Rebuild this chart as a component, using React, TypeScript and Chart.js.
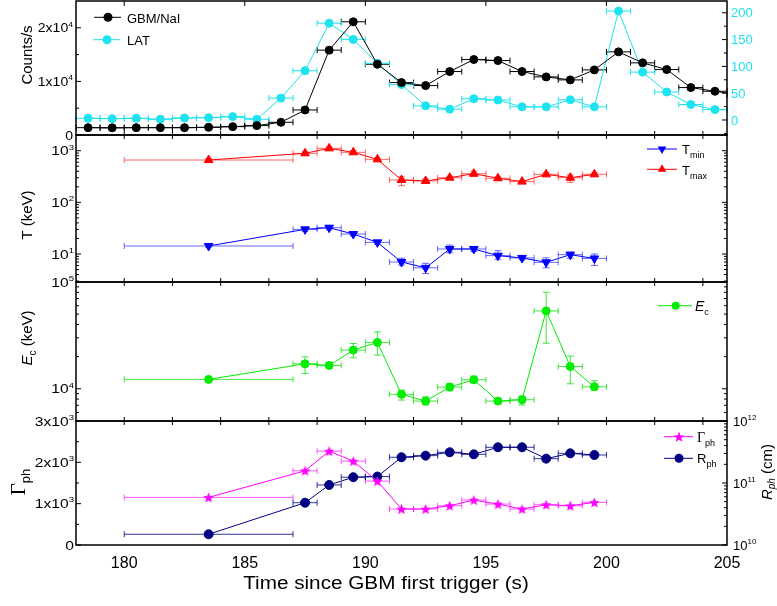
import React, { useEffect, useRef } from 'react';
import { Chart, registerables } from 'chart.js';

Chart.register(...registerables);

// ---------------- data ----------------
const gbmTime = [178.5, 179.5, 180.5, 181.5, 182.5, 183.5, 184.5, 185.5, 186.5, 187.5, 188.5, 189.5, 190.5, 191.5, 192.5, 193.5, 194.5, 195.5, 196.5, 197.5, 198.5, 199.5, 200.5, 201.5, 202.5, 203.5, 204.5, 205.5];
const gbmCounts = [1370, 1340, 1370, 1370, 1370, 1430, 1560, 1750, 2370, 4670, 15830, 21120, 13200, 9780, 9220, 11840, 14080, 13890, 11840, 10840, 10280, 12150, 15510, 13460, 12210, 8850, 8160, 7500];
const latTime = [178.5, 179.5, 180.5, 181.5, 182.5, 183.5, 184.5, 185.5, 186.5, 187.5, 188.5, 189.5, 190.5, 191.5, 192.5, 193.5, 194.5, 195.5, 196.5, 197.5, 198.5, 199.5, 200.5, 201.5, 202.5, 203.5, 204.5, 205.5];
const latCounts = [3.2, 2.5, 3.2, 1.3, 3.8, 4.4, 6.3, 1.3, 40.9, 91.9, 180.6, 150.4, 105.7, 66, 26.4, 20.1, 39.6, 37.2, 24.5, 24.5, 37.7, 24.5, 203.2, 89.3, 52.2, 28.9, 19.4, 19];
const lcHalfWidth = 0.5;

const specTime = [183.5, 187.5, 188.5, 189.5, 190.5, 191.5, 192.5, 193.5, 194.5, 195.5, 196.5, 197.5, 198.5, 199.5];
const specHalfWidth = [3.5, 0.5, 0.5, 0.5, 0.5, 0.5, 0.5, 0.5, 0.5, 0.5, 0.5, 0.5, 0.5, 0.5];

const tMin = [14.3, 30, 32.3, 24.4, 16.8, 7.0, 5.4, 12.5, 12.5, 9.3, 8.4, 6.9, 9.7, 8.2];
const tMinLo = [13.6, 27.5, 29.5, 22.5, 15.5, 6.1, 4.2, 10.6, 11.2, 7.9, 7.7, 5.4, 8.3, 6.0];
const tMinHi = [15.0, 32.5, 35, 26.5, 18.2, 8.3, 6.6, 14.9, 14.0, 11.6, 9.1, 8.4, 10.9, 10.0];
const tMax = [660, 890, 1110, 930, 680, 271, 260, 300, 359, 292, 252, 349, 300, 349];
const tMaxLo = [615, 830, 1030, 870, 640, 210, 245, 282, 318, 275, 238, 326, 245, 326];
const tMaxHi = [705, 950, 1190, 1000, 725, 312, 280, 320, 400, 312, 268, 374, 338, 374];

const ecVal = [12240, 17130, 16550, 23020, 27160, 8870, 7670, 10370, 12140, 7670, 7890, 53560, 16180, 10440];
const ecLo = [11550, 13930, 15600, 19480, 20650, 7840, 7050, 9580, 11380, 7300, 7050, 26720, 11130, 9720];
const ecHi = [12780, 19900, 17500, 26550, 34120, 9720, 8410, 11230, 13150, 8130, 8550, 80200, 20230, 11880];

const gammaPh = [1152, 1795, 2270, 2029, 1546, 870, 870, 950, 1087, 990, 870, 974, 950, 1031];
const rPh = [1.49e10, 4.81e10, 9.3e10, 1.24e11, 1.27e11, 2.6e11, 2.76e11, 3.13e11, 2.9e11, 3.77e11, 3.77e11, 2.47e11, 3.01e11, 2.83e11];

// ---------------- ticks ----------------
const X_MIN = 178;
const X_MAX = 205;
const xTickValues = [180, 185, 190, 195, 200, 205];
const xTickLabels = ['180', '185', '190', '195', '200', '205'];
const xTopTicks = [180, 185, 190, 195, 200];
const xInnerTicks = [180, 182, 184, 186, 188, 190, 192, 194, 196, 198, 200, 202, 204];

const countsTicks = [0, 10000, 20000];
const countsTickLabels = ['0', '1x10^4', '2x10^4'];
const countsMinor = [5000, 15000];
const latTicks = [0, 50, 100, 150, 200];
const latTickLabels = ['0', '50', '100', '150', '200'];
const latMinor = [-25, 25, 75, 125, 175];
const tTicks = [10, 100, 1000];
const tTickLabels = ['10^1', '10^2', '10^3'];
const ecTicks = [1e4, 1e5];
const ecTickLabels = ['10^4', '10^5'];
const gammaTicks = [0, 1000, 2000, 3000];
const gammaTickLabels = ['0', '1x10^3', '2x10^3', '3x10^3'];
const gammaMinor = [500, 1500, 2500];
const rTicks = [1e10, 1e11, 1e12];
const rTickLabels = ['10^10', '10^11', '10^12'];

// ---------------- styles ----------------
const BLACK = '#000000';
const CYAN = '#1EE3EF';
const RED = '#FF0000';
const BLUE = '#0000FF';
const GREEN = '#00EE00';
const MAGENTA = '#FF00FF';
const NAVY = '#000080';
const SANS = '"Liberation Sans", Arial, Helvetica, sans-serif';
const SERIF = '"Liberation Serif", "Times New Roman", serif';

type Seg = { t: string; size: number; dy?: number; italic?: boolean; serif?: boolean };

function fontOf(s: Seg) {
  return `${s.italic ? 'italic ' : ''}${s.size}px ${s.serif ? SERIF : SANS}`;
}
function measure(ctx: CanvasRenderingContext2D, segs: Seg[]) {
  let w = 0;
  for (const s of segs) {
    ctx.font = fontOf(s);
    w += ctx.measureText(s.t).width;
  }
  return w;
}
function drawRich(ctx: CanvasRenderingContext2D, segs: Seg[], x: number, y: number, align: string, color: string, sx = 1, rotate = false) {
  ctx.save();
  ctx.translate(x, y);
  if (rotate) ctx.rotate(-Math.PI / 2);
  ctx.scale(sx, 1);
  const w = measure(ctx, segs);
  let cx = align === 'left' ? 0 : align === 'right' ? -w : -w / 2;
  ctx.fillStyle = color;
  ctx.textBaseline = 'alphabetic';
  ctx.textAlign = 'left';
  for (const s of segs) {
    ctx.font = fontOf(s);
    ctx.fillText(s.t, cx, s.dy || 0);
    cx += ctx.measureText(s.t).width;
  }
  ctx.restore();
}
function supLabel(label: string, size: number): Seg[] {
  const parts = label.split('^');
  const segs: Seg[] = [{ t: parts[0], size }];
  if (parts[1]) segs.push({ t: parts[1], size: Math.round(size * 0.62), dy: -size * 0.45 });
  return segs;
}
function logMinors(min: number, max: number) {
  const out: number[] = [];
  for (let e = Math.floor(Math.log10(min)); e <= Math.ceil(Math.log10(max)); e++) {
    for (let k = 2; k <= 9; k++) {
      const v = k * Math.pow(10, e);
      if (v > min && v < max) out.push(v);
    }
  }
  return out;
}

function starPath(ctx: CanvasRenderingContext2D, cx: number, cy: number, r: number) {
  ctx.beginPath();
  for (let i = 0; i < 10; i++) {
    const a = -Math.PI / 2 + (i * Math.PI) / 5;
    const rr = i % 2 === 0 ? r : r * 0.45;
    const px = cx + rr * Math.cos(a);
    const py = cy + rr * Math.sin(a);
    if (i === 0) ctx.moveTo(px, py);
    else ctx.lineTo(px, py);
  }
  ctx.closePath();
}
function makeStarCanvas(color: string, r: number) {
  const c = document.createElement('canvas');
  const s = Math.ceil(r * 2 + 2);
  c.width = s;
  c.height = s;
  const g = c.getContext('2d')!;
  g.fillStyle = color;
  starPath(g, s / 2, s / 2 + r * 0.1, r);
  g.fill();
  return c;
}
function drawMarker(ctx: CanvasRenderingContext2D, kind: string, x: number, y: number, r: number, color: string) {
  ctx.save();
  ctx.fillStyle = color;
  if (kind === 'circle') {
    ctx.beginPath();
    ctx.arc(x, y, r, 0, Math.PI * 2);
    ctx.fill();
  } else if (kind === 'triUp' || kind === 'triDown') {
    const s = kind === 'triUp' ? 1 : -1;
    ctx.beginPath();
    ctx.moveTo(x, y - s * r);
    ctx.lineTo(x + 0.866 * r, y + s * 0.5 * r);
    ctx.lineTo(x - 0.866 * r, y + s * 0.5 * r);
    ctx.closePath();
    ctx.fill();
  } else if (kind === 'star') {
    starPath(ctx, x, y + r * 0.1, r);
    ctx.fill();
  }
  ctx.restore();
}

// ---------------- panel decoration plugin ----------------
interface AxisLabels { scale: string; side: string; values: number[]; labels: string[]; size: number; sx: number; color: string; x: number }
interface AxisTicks { scale: string; side: string; majors: number[]; minors: number[] }
interface LegendItem { segs: Seg[]; color: string; marker: string; r: number; y: number; x0: number; x1: number; mx: number; tx: number; ty: number }
interface TitleItem { segs: Seg[]; x: number; y: number; rotate: boolean; sx: number }
interface Decor {
  offset: number;
  labels: AxisLabels[];
  ticks: AxisTicks[];
  legend: LegendItem[];
  titles: TitleItem[];
  xTop: number[];
  xTopLen: number;
  xBottom: number[];
  xLabels: boolean;
}

function decorPlugin(cfg: Decor) {
  return {
    id: 'decor',
    beforeDatasetsDraw(chart: any) {
      const ctx: CanvasRenderingContext2D = chart.ctx;
      const a = chart.chartArea;
      ctx.save();
      ctx.beginPath();
      ctx.rect(a.left - 1, a.top - 1, a.right - a.left + 2, a.bottom - a.top + 2);
      ctx.clip();
      chart.data.datasets.forEach((ds: any, di: number) => {
        const meta = chart.getDatasetMeta(di);
        const xs = chart.scales[meta.xAxisID];
        const ys = chart.scales[meta.yAxisID];
        ctx.strokeStyle = ds.errColor || ds.borderColor;
        ctx.lineWidth = 1;
        ds.data.forEach((p: any, i: number) => {
          const px = xs.getPixelForValue(p.x);
          const py = ys.getPixelForValue(p.y);
          if (ds.xErr) {
            const x0 = xs.getPixelForValue(p.x - ds.xErr[i]);
            const x1 = xs.getPixelForValue(p.x + ds.xErr[i]);
            ctx.beginPath();
            ctx.moveTo(x0, py);
            ctx.lineTo(x1, py);
            ctx.moveTo(x0, py - 3);
            ctx.lineTo(x0, py + 3);
            ctx.moveTo(x1, py - 3);
            ctx.lineTo(x1, py + 3);
            ctx.stroke();
          }
          if (ds.yLo && ds.yHi) {
            const y0 = ys.getPixelForValue(ds.yLo[i]);
            const y1 = ys.getPixelForValue(ds.yHi[i]);
            ctx.beginPath();
            ctx.moveTo(px, y0);
            ctx.lineTo(px, y1);
            ctx.moveTo(px - 3.5, y0);
            ctx.lineTo(px + 3.5, y0);
            ctx.moveTo(px - 3.5, y1);
            ctx.lineTo(px + 3.5, y1);
            ctx.stroke();
          }
        });
      });
      ctx.restore();
    },
    afterDraw(chart: any) {
      const ctx: CanvasRenderingContext2D = chart.ctx;
      const a = chart.chartArea;
      const off = cfg.offset;
      ctx.save();
      // ticks on y axes
      ctx.strokeStyle = BLACK;
      ctx.lineWidth = 1;
      for (const t of cfg.ticks) {
        const s = chart.scales[t.scale];
        const draw = (v: number, len: number) => {
          const py = s.getPixelForValue(v);
          if (py < a.top - 0.5 || py > a.bottom + 0.5) return;
          ctx.beginPath();
          if (t.side === 'left') {
            ctx.moveTo(a.left, py);
            ctx.lineTo(a.left + len, py);
          } else {
            ctx.moveTo(a.right, py);
            ctx.lineTo(a.right - len, py);
          }
          ctx.stroke();
        };
        t.majors.forEach((v) => draw(v, 5));
        t.minors.forEach((v) => draw(v, 3));
      }
      // ticks on x edges
      const xs = chart.scales.x;
      cfg.xTop.forEach((v) => {
        const px = xs.getPixelForValue(v);
        ctx.beginPath();
        ctx.moveTo(px, a.top);
        ctx.lineTo(px, a.top + cfg.xTopLen);
        ctx.stroke();
      });
      cfg.xBottom.forEach((v) => {
        const px = xs.getPixelForValue(v);
        ctx.beginPath();
        ctx.moveTo(px, a.bottom);
        ctx.lineTo(px, a.bottom - 4);
        ctx.stroke();
      });
      // frame
      ctx.lineWidth = 1.5;
      ctx.strokeRect(a.left, a.top, a.right - a.left, a.bottom - a.top);
      // y tick labels
      for (const l of cfg.labels) {
        const s = chart.scales[l.scale];
        l.values.forEach((v, i) => {
          const py = s.getPixelForValue(v);
          drawRich(ctx, supLabel(l.labels[i], l.size), l.x, py + l.size * 0.36, l.side === 'left' ? 'right' : 'left', l.color, l.sx);
        });
      }
      // x tick labels
      if (cfg.xLabels) {
        xTickValues.forEach((v, i) => {
          const px = xs.getPixelForValue(v);
          drawRich(ctx, [{ t: xTickLabels[i], size: 16 }], px, 568 - off, 'center', BLACK, 1);
        });
      }
      // legend
      for (const it of cfg.legend) {
        const y = it.y - off;
        ctx.strokeStyle = it.color;
        ctx.lineWidth = 1;
        ctx.beginPath();
        ctx.moveTo(it.x0, y);
        ctx.lineTo(it.x1, y);
        ctx.stroke();
        drawMarker(ctx, it.marker, it.mx, y, it.r, it.color);
        drawRich(ctx, it.segs, it.tx, it.ty - off, 'left', BLACK, 1);
      }
      // titles
      for (const tt of cfg.titles) {
        drawRich(ctx, tt.segs, tt.x, tt.y - off, 'center', BLACK, tt.sx, tt.rotate);
      }
      ctx.restore();
    },
  };
}

// ---------------- chart configs ----------------
function pts(xs: number[], ys: number[]) {
  return xs.map((x, i) => ({ x, y: ys[i] }));
}

function hiddenAxis(extra: any, width: number) {
  return {
    display: true,
    ...extra,
    ticks: { display: false },
    grid: { display: false, drawTicks: false },
    border: { display: false },
    afterFit: (s: any) => {
      s.width = width;
    },
  };
}

function lineDs(label: string, data: any[], yAxisID: string, color: string, extra: any) {
  return {
    label,
    data,
    yAxisID,
    xAxisID: 'x',
    borderColor: color,
    backgroundColor: color,
    pointBackgroundColor: color,
    pointBorderColor: color,
    borderWidth: 1,
    pointBorderWidth: 1,
    tension: 0,
    fill: false,
    ...extra,
  };
}

function baseOptions(pad: any, scales: any) {
  return {
    responsive: false,
    animation: false,
    devicePixelRatio: 1,
    events: [],
    layout: { padding: pad, autoPadding: false },
    plugins: { legend: { display: false }, tooltip: { enabled: false } },
    scales: {
      x: { type: 'linear', min: X_MIN, max: X_MAX, display: false },
      ...scales,
    },
  };
}

const PANELS = [
  { top: 0, height: 150 },
  { top: 120, height: 177 },
  { top: 267, height: 169 },
  { top: 406, height: 200 },
];

function buildConfigs() {
  const star = makeStarCanvas(MAGENTA, 5.5);
  const half = specHalfWidth;
  const c1 = {
    type: 'line',
    data: {
      datasets: [
        lineDs('GBM/NaI', pts(gbmTime, gbmCounts), 'y', BLACK, { pointRadius: 4, xErr: gbmTime.map(() => lcHalfWidth) }),
        lineDs('LAT', pts(latTime, latCounts), 'y2', CYAN, { pointRadius: 4, xErr: latTime.map(() => lcHalfWidth) }),
      ],
    },
    options: baseOptions({ left: 0, right: 0, top: 1, bottom: 15 }, {
      y: hiddenAxis({ type: 'linear', position: 'left', min: 0, max: 25000 }, 76),
      y2: hiddenAxis({ type: 'linear', position: 'right', min: -28, max: 222 }, 50),
    }),
    plugins: [decorPlugin({
      offset: PANELS[0].top,
      labels: [
        { scale: 'y', side: 'left', values: countsTicks, labels: countsTickLabels, size: 13, sx: 1.08, color: BLACK, x: 73 },
        { scale: 'y2', side: 'right', values: latTicks, labels: latTickLabels, size: 13, sx: 1, color: CYAN, x: 731 },
      ],
      ticks: [
        { scale: 'y', side: 'left', majors: countsTicks, minors: countsMinor },
        { scale: 'y2', side: 'right', majors: latTicks, minors: latMinor },
      ],
      legend: [
        { segs: [{ t: 'GBM/NaI', size: 13 }], color: BLACK, marker: 'circle', r: 4.5, y: 17.3, x0: 94, x1: 121, mx: 108, tx: 127, ty: 22.5 },
        { segs: [{ t: 'LAT', size: 13 }], color: CYAN, marker: 'circle', r: 4.5, y: 39.7, x0: 93, x1: 120, mx: 107, tx: 127, ty: 44.5 },
      ],
      titles: [{ segs: [{ t: 'Counts/s', size: 15 }], x: 32, y: 55, rotate: true, sx: 1 }],
      xTop: xTopTicks,
      xTopLen: 5,
      xBottom: xInnerTicks,
      xLabels: false,
    })],
  };

  const c2 = {
    type: 'line',
    data: {
      datasets: [
        lineDs('Tmin', pts(specTime, tMin), 'y', BLUE, { pointRadius: 5, pointStyle: 'triangle', pointRotation: 180, xErr: half, yLo: tMinLo, yHi: tMinHi, errColor: 'rgba(0,0,255,0.6)' }),
        lineDs('Tmax', pts(specTime, tMax), 'y', RED, { pointRadius: 5, pointStyle: 'triangle', xErr: half, yLo: tMaxLo, yHi: tMaxHi, errColor: 'rgba(255,0,0,0.6)' }),
      ],
    },
    options: baseOptions({ left: 0, right: 50, top: 15, bottom: 15 }, {
      y: hiddenAxis({ type: 'logarithmic', position: 'left', min: 2.87, max: 2014 }, 76),
    }),
    plugins: [decorPlugin({
      offset: PANELS[1].top,
      labels: [{ scale: 'y', side: 'left', values: tTicks, labels: tTickLabels, size: 13, sx: 1.2, color: BLACK, x: 74 }],
      ticks: [
        { scale: 'y', side: 'left', majors: tTicks, minors: logMinors(2.87, 2014) },
        { scale: 'y', side: 'right', majors: tTicks, minors: logMinors(2.87, 2014) },
      ],
      legend: [
        { segs: [{ t: 'T', size: 13 }, { t: 'min', size: 9, dy: 4 }], color: BLUE, marker: 'triDown', r: 5, y: 149, x0: 647, x1: 677, mx: 662, tx: 682, ty: 154.3 },
        { segs: [{ t: 'T', size: 13 }, { t: 'max', size: 9, dy: 4 }], color: RED, marker: 'triUp', r: 5, y: 169.3, x0: 647, x1: 677, mx: 662, tx: 682, ty: 174.5 },
      ],
      titles: [{ segs: [{ t: 'T (keV)', size: 15 }], x: 32, y: 215, rotate: true, sx: 1 }],
      xTop: xInnerTicks,
      xTopLen: 4,
      xBottom: xInnerTicks,
      xLabels: false,
    })],
  };

  const c3 = {
    type: 'line',
    data: {
      datasets: [
        lineDs('Ec', pts(specTime, ecVal), 'y', GREEN, { pointRadius: 4, xErr: half, yLo: ecLo, yHi: ecHi, errColor: 'rgba(0,220,0,0.75)' }),
      ],
    },
    options: baseOptions({ left: 0, right: 50, top: 15, bottom: 15 }, {
      y: hiddenAxis({ type: 'logarithmic', position: 'left', min: 4990, max: 1e5 }, 76),
    }),
    plugins: [decorPlugin({
      offset: PANELS[2].top,
      labels: [{ scale: 'y', side: 'left', values: ecTicks, labels: ecTickLabels, size: 13, sx: 1.2, color: BLACK, x: 74 }],
      ticks: [
        { scale: 'y', side: 'left', majors: ecTicks, minors: logMinors(4990, 1e5) },
        { scale: 'y', side: 'right', majors: ecTicks, minors: logMinors(4990, 1e5) },
      ],
      legend: [
        { segs: [{ t: 'E', size: 14, italic: true }, { t: 'c', size: 9, dy: 4 }], color: GREEN, marker: 'circle', r: 4, y: 305.7, x0: 658, x1: 692, mx: 675.7, tx: 695, ty: 311 },
      ],
      titles: [{ segs: [{ t: 'E', size: 15, italic: true }, { t: 'c', size: 10, dy: 4 }, { t: ' (keV)', size: 15 }], x: 32, y: 338, rotate: true, sx: 1 }],
      xTop: xInnerTicks,
      xTopLen: 4,
      xBottom: xInnerTicks,
      xLabels: false,
    })],
  };

  const c4 = {
    type: 'line',
    data: {
      datasets: [
        lineDs('Gamma_ph', pts(specTime, gammaPh), 'y', MAGENTA, { pointRadius: 5.5, pointStyle: star, xErr: half, errColor: 'rgba(255,0,255,0.65)' }),
        lineDs('R_ph', pts(specTime, rPh), 'y2', NAVY, { pointRadius: 4.5, xErr: half, errColor: 'rgba(0,0,128,0.8)' }),
      ],
    },
    options: baseOptions({ left: 0, right: 0, top: 15, bottom: 61 }, {
      y: hiddenAxis({ type: 'linear', position: 'left', min: 0, max: 3000 }, 76),
      y2: hiddenAxis({ type: 'logarithmic', position: 'right', min: 1e10, max: 1e12 }, 50),
    }),
    plugins: [decorPlugin({
      offset: PANELS[3].top,
      labels: [
        { scale: 'y', side: 'left', values: gammaTicks, labels: gammaTickLabels, size: 13, sx: 1.2, color: BLACK, x: 74 },
        { scale: 'y2', side: 'right', values: rTicks, labels: rTickLabels, size: 13, sx: 1, color: BLACK, x: 733 },
      ],
      ticks: [
        { scale: 'y', side: 'left', majors: gammaTicks, minors: gammaMinor },
        { scale: 'y2', side: 'right', majors: rTicks, minors: logMinors(1e10, 1e12) },
      ],
      legend: [
        { segs: [{ t: 'Γ', size: 14, serif: true }, { t: 'ph', size: 9, dy: 4 }], color: MAGENTA, marker: 'star', r: 5.5, y: 436.7, x0: 664, x1: 693, mx: 679, tx: 697, ty: 441.5 },
        { segs: [{ t: 'R', size: 13 }, { t: 'ph', size: 9, dy: 4 }], color: NAVY, marker: 'circle', r: 4.5, y: 458.3, x0: 664, x1: 693, mx: 679, tx: 697, ty: 463 },
      ],
      titles: [
        { segs: [{ t: 'Γ', size: 21, serif: true }, { t: 'ph', size: 13, dy: 5 }], x: 25, y: 482, rotate: true, sx: 1 },
        { segs: [{ t: 'R', size: 15, italic: true }, { t: 'ph', size: 10, italic: true, dy: 3 }, { t: ' (cm)', size: 15 }], x: 772, y: 472, rotate: true, sx: 1 },
        { segs: [{ t: 'Time since GBM first trigger (s)', size: 18 }], x: 386, y: 589, rotate: false, sx: 1.15 },
      ],
      xTop: xInnerTicks,
      xTopLen: 4,
      xBottom: [],
      xLabels: true,
    })],
  };
  return [c1, c2, c3, c4];
}

export default function App() {
  const r0 = useRef<HTMLCanvasElement>(null);
  const r1 = useRef<HTMLCanvasElement>(null);
  const r2 = useRef<HTMLCanvasElement>(null);
  const r3 = useRef<HTMLCanvasElement>(null);
  const refs = [r0, r1, r2, r3];

  useEffect(() => {
    const cfgs = buildConfigs();
    const charts = cfgs.map((c, i) => new Chart(refs[i].current as HTMLCanvasElement, c as any));
    return () => charts.forEach((c) => c.destroy());
  }, []);

  return (
    <div style={{ position: 'absolute', left: 0, top: 0, width: 777, height: 606, background: '#ffffff' }}>
      {PANELS.map((p, i) => (
        <canvas
          key={i}
          ref={refs[i]}
          width={777}
          height={p.height}
          style={{ position: 'absolute', left: 0, top: p.top, width: 777, height: p.height }}
        />
      ))}
    </div>
  );
}
